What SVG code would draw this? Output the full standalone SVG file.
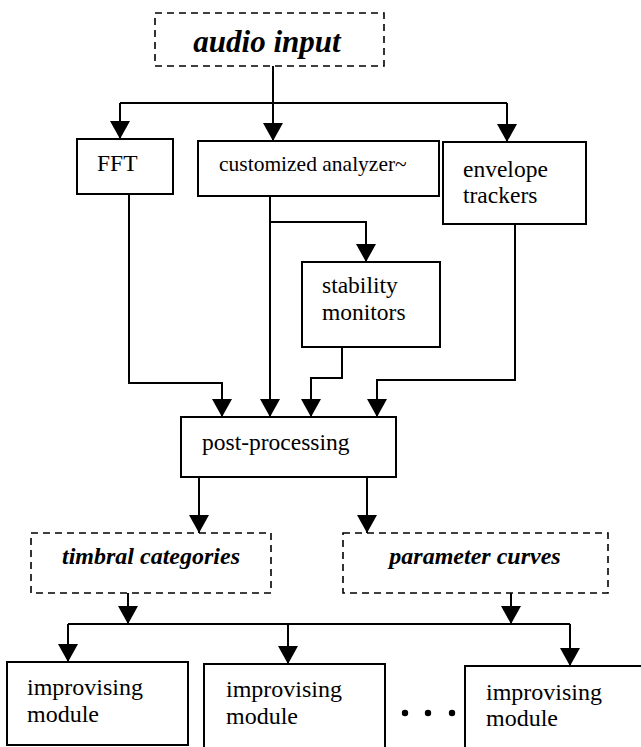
<svg xmlns="http://www.w3.org/2000/svg" width="641" height="747" viewBox="0 0 641 747">
<defs>
<marker id="ah" viewBox="0 0 18 20" refX="18" refY="10" markerWidth="18" markerHeight="20" orient="auto" markerUnits="userSpaceOnUse">
<path d="M0,0 L18,10 L0,20 z" fill="#000"/>
</marker>
<style>
.box{fill:#fff;stroke:#000;stroke-width:2}
.dbox{fill:#fff;stroke:#000;stroke-width:1.6;stroke-dasharray:7 5}
.t{font-family:"Liberation Serif","Times New Roman",serif;font-size:23.5px;fill:#000}
.bi{font-family:"Liberation Serif","Times New Roman",serif;font-weight:bold;font-style:italic;fill:#000}
.c{fill:none;stroke:#000;stroke-width:2}
.a{fill:none;stroke:#000;stroke-width:2;marker-end:url(#ah)}
</style>
</defs>
<rect width="641" height="747" fill="#fff"/>
<g id="connectors">
<path class="c" d="M273,66 V103 M120,103 H507"/>
<path class="a" d="M120,103 V139"/>
<path class="a" d="M273,103 V141"/>
<path class="a" d="M507,103 V142"/>
<path class="a" d="M129,194 V383 H222 V417"/>
<path class="a" d="M270,196 V417"/>
<path class="a" d="M270,222 H366 V262"/>
<path class="a" d="M342,347 V378 H311 V417"/>
<path class="a" d="M515,224 V380 H377 V417"/>
<path class="a" d="M199,477 V533"/>
<path class="a" d="M367,477 V533"/>
<path class="a" d="M128,593 V624"/>
<path class="a" d="M511,593 V624"/>
<path class="c" d="M68,624 H570"/>
<path class="a" d="M68,624 V662"/>
<path class="a" d="M288,624 V664"/>
<path class="a" d="M570,624 V666"/>
</g>
<g id="audio-input">
<rect class="dbox" x="155" y="13" width="229" height="53"/>
<text class="bi" x="267" y="52" font-size="31" text-anchor="middle">audio input</text>
</g>
<g id="fft">
<rect class="box" x="77" y="139" width="96" height="55"/>
<text class="t" x="97" y="171">FFT</text>
</g>
<g id="customized-analyzer">
<rect class="box" x="198" y="141" width="241" height="55"/>
<text class="t" x="219" y="171" style="font-size:21.5px">customized analyzer~</text>
</g>
<g id="envelope-trackers">
<rect class="box" x="443" y="142" width="143" height="82"/>
<text class="t" x="463" y="177">envelope</text>
<text class="t" x="463" y="203">trackers</text>
</g>
<g id="stability-monitors">
<rect class="box" x="302" y="262" width="138" height="85"/>
<text class="t" x="322" y="293">stability</text>
<text class="t" x="322" y="320">monitors</text>
</g>
<g id="post-processing">
<rect class="box" x="181" y="417" width="215" height="60"/>
<text class="t" x="202" y="450">post-processing</text>
</g>
<g id="timbral-categories">
<rect class="dbox" x="31" y="533" width="240" height="60"/>
<text class="bi" x="151" y="564" font-size="24" text-anchor="middle">timbral categories</text>
</g>
<g id="parameter-curves">
<rect class="dbox" x="343" y="533" width="265" height="60"/>
<text class="bi" x="475" y="564" font-size="24" text-anchor="middle">parameter curves</text>
</g>
<g id="module-1">
<rect class="box" x="7" y="662" width="181" height="83"/>
<text class="t" x="27" y="695" style="font-size:24px">improvising</text>
<text class="t" x="27" y="722" style="font-size:24px">module</text>
</g>
<g id="module-2">
<rect class="box" x="204" y="664" width="181" height="90"/>
<text class="t" x="226" y="697" style="font-size:24px">improvising</text>
<text class="t" x="226" y="724" style="font-size:24px">module</text>
</g>
<g id="module-3">
<rect class="box" x="465" y="666" width="190" height="90"/>
<text class="t" x="486" y="700" style="font-size:24px">improvising</text>
<text class="t" x="486" y="726" style="font-size:24px">module</text>
</g>
<g id="ellipsis">
<circle cx="405" cy="713" r="3.2"/>
<circle cx="428" cy="713" r="3.2"/>
<circle cx="452" cy="713" r="3.2"/>
</g>
</svg>
